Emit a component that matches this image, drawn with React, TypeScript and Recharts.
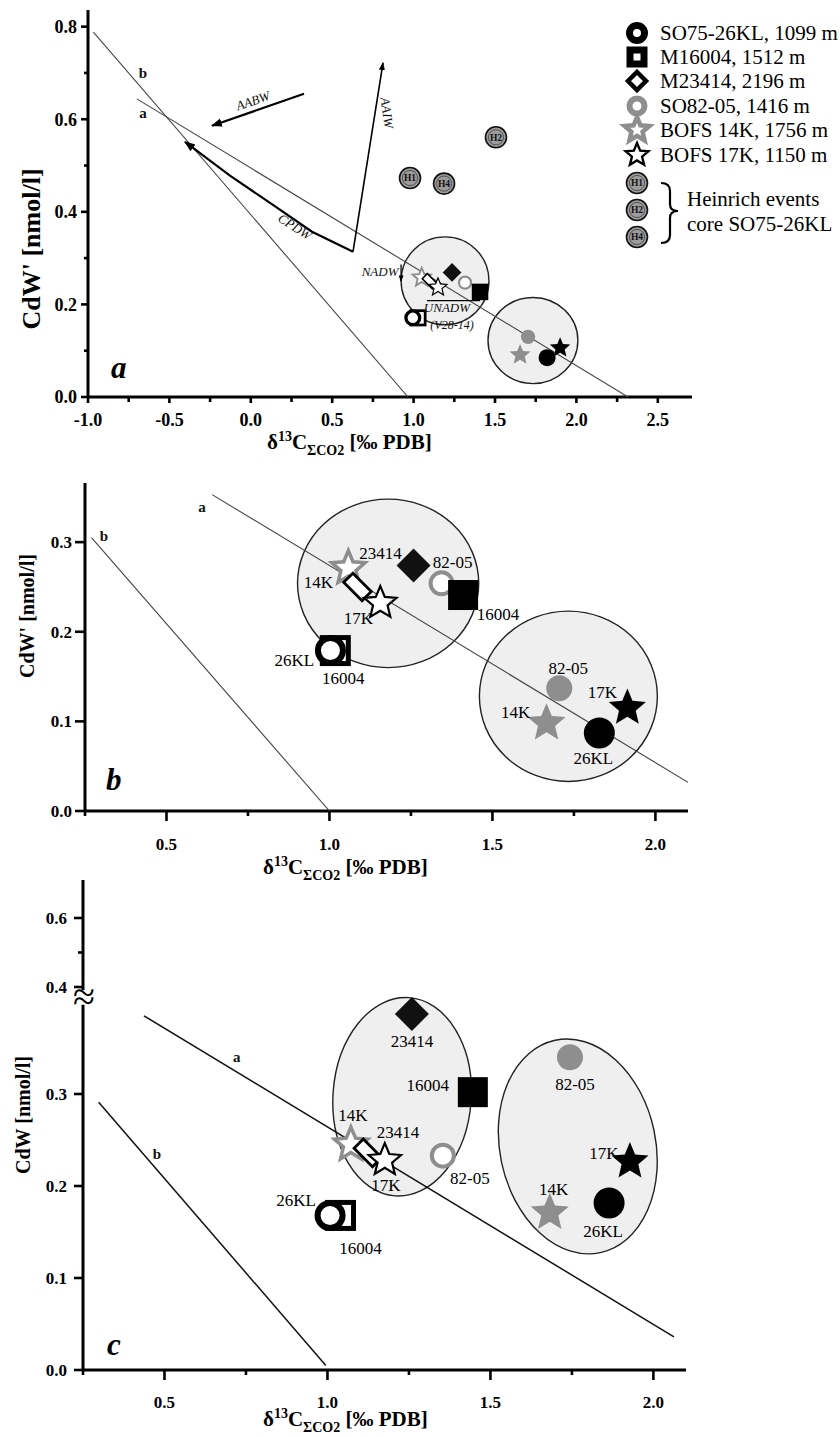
import React from 'react';
import { ScatterChart, Scatter, XAxis, YAxis, ReferenceLine } from 'recharts';

const SERIF = '"Liberation Serif", "Times New Roman", serif';
const GRAY = '#8e8e8e';
const W = 840;

// ---------- panel a ----------
const aXTicks = [-1, -0.75, -0.5, -0.25, 0, 0.25, 0.5, 0.75, 1, 1.25, 1.5, 1.75, 2, 2.25, 2.5];
const aXLabels = ['-1.0', '', '-0.5', '', '0.0', '', '0.5', '', '1.0', '', '1.5', '', '2.0', '', '2.5'];
const aYTicks = [0, 0.1, 0.2, 0.3, 0.4, 0.5, 0.6, 0.7, 0.8];
const aYLabels = ['0.0', '', '0.2', '', '0.4', '', '0.6', '', '0.8'];

const aLineA = [{ x: -0.7, y: 0.644 }, { x: 2.317, y: 0 }];
const aLineB = [{ x: -0.967, y: 0.788 }, { x: 0.966, y: 0 }];
const aAABW = [{ x: 0.327, y: 0.655 }, { x: -0.238, y: 0.586 }];
const aCPDW = [
  { x: 0.628, y: 0.314 },
  { x: 0.376, y: 0.357 },
  { x: 0.136, y: 0.415 },
  { x: -0.128, y: 0.478 },
  { x: -0.404, y: 0.551 },
];
const aAAIW = [{ x: 0.628, y: 0.314 }, { x: 0.812, y: 0.722 }];
const aNADW = [{ x: 0.923, y: 0.286 }, { x: 0.923, y: 0.25 }];
const aUNADW = [{ x: 1.082, y: 0.208 }, { x: 1.408, y: 0.208 }];

const aRegions = [
  { x: 1.193, y: 0.251, rx: 0.27, ry: 0.095 },
  { x: 1.733, y: 0.122, rx: 0.276, ry: 0.093 },
];
const aOpen = [
  { core: '16004', x: 1.027, y: 0.171 },
  { core: '26KL', x: 0.995, y: 0.171 },
  { core: '14K', x: 1.05, y: 0.258 },
  { core: '23414', x: 1.1, y: 0.25 },
  { core: '17K', x: 1.15, y: 0.237 },
  { core: '82-05', x: 1.316, y: 0.247 },
];
const aFilled = [
  { core: '23414', x: 1.236, y: 0.269 },
  { core: '16004', x: 1.408, y: 0.227 },
  { core: '82-05', x: 1.703, y: 0.13 },
  { core: '14K', x: 1.654, y: 0.091 },
  { core: '26KL', x: 1.82, y: 0.085 },
  { core: '17K', x: 1.9, y: 0.106 },
];
const aHeinrich = [
  { name: 'H1', x: 0.978, y: 0.473 },
  { name: 'H2', x: 1.506, y: 0.561 },
  { name: 'H4', x: 1.187, y: 0.461 },
];
const aNotes = [
  { text: 'AABW', x: 0.013, y: 0.64 },
  { text: 'CPDW', x: 0.271, y: 0.368 },
  { text: 'AAIW', x: 0.837, y: 0.614 },
  { text: 'NADW', x: 0.794, y: 0.271 },
  { text: 'UNADW', x: 1.205, y: 0.193 },
  { text: '(V28-14)', x: 1.236, y: 0.156 },
  { text: 'b', x: -0.662, y: 0.7 },
  { text: 'a', x: -0.662, y: 0.614 },
];

// ---------- panel b ----------
const bXTicks = [0.25, 0.5, 0.75, 1, 1.25, 1.5, 1.75, 2];
const bXLabels = ['', '0.5', '', '1.0', '', '1.5', '', '2.0'];
const bYTicks = [0, 0.1, 0.2, 0.3];
const bYLabels = ['0.0', '0.1', '0.2', '0.3'];
const bLineA = [{ x: 0.64, y: 0.353 }, { x: 2.1, y: 0.032 }];
const bLineB = [{ x: 0.27, y: 0.305 }, { x: 1.0, y: 0 }];
const bRegions = [
  { x: 1.18, y: 0.254, rx: 0.278, ry: 0.094 },
  { x: 1.733, y: 0.128, rx: 0.273, ry: 0.095 },
];
const bOpen = [
  { core: '16004', x: 1.018, y: 0.179 },
  { core: '26KL', x: 1.003, y: 0.179 },
  { core: '14K', x: 1.058, y: 0.271 },
  { core: '23414', x: 1.086, y: 0.25 },
  { core: '17K', x: 1.156, y: 0.232 },
  { core: '82-05', x: 1.344, y: 0.254 },
];
const bFilled = [
  { core: '23414', x: 1.258, y: 0.274 },
  { core: '16004', x: 1.41, y: 0.241 },
  { core: '82-05', x: 1.705, y: 0.137 },
  { core: '14K', x: 1.666, y: 0.098 },
  { core: '26KL', x: 1.828, y: 0.087 },
  { core: '17K', x: 1.914, y: 0.115 },
];
const bNotes = [
  { text: 'a', x: 0.609, y: 0.339 },
  { text: 'b', x: 0.308, y: 0.307 },
];

// ---------- panel c (broken y axis above 0.4) ----------
const cXTicks = [0.25, 0.5, 0.75, 1, 1.25, 1.5, 1.75, 2];
const cXLabels = ['', '0.5', '', '1.0', '', '1.5', '', '2.0'];
const cYTicks = [0, 0.1, 0.2, 0.3, 0.4, 0.5, 0.6];
const cYLabels = ['0.0', '0.1', '0.2', '0.3', '0.4', '', '0.6'];
const cLineA = [{ x: 0.437, y: 0.385 }, { x: 2.063, y: 0.036 }];
const cLineB = [{ x: 0.298, y: 0.291 }, { x: 0.995, y: 0.005 }];
const cRegions = [
  { x: 1.229, y: 0.297, rx: 0.212, ry: 0.108, tilt: 4 },
  { x: 1.768, y: 0.243, rx: 0.239, ry: 0.118, tilt: -12 },
];
const cOpen = [
  { core: '16004', x: 1.04, y: 0.168 },
  { core: '26KL', x: 1.008, y: 0.168 },
  { core: '14K', x: 1.072, y: 0.245 },
  { core: '23414', x: 1.124, y: 0.236 },
  { core: '17K', x: 1.176, y: 0.228 },
  { core: '82-05', x: 1.354, y: 0.233 },
];
const cFilled = [
  { core: '23414', x: 1.259, y: 0.387 },
  { core: '16004', x: 1.446, y: 0.302 },
  { core: '82-05', x: 1.744, y: 0.34 },
  { core: '14K', x: 1.682, y: 0.171 },
  { core: '26KL', x: 1.864, y: 0.1815 },
  { core: '17K', x: 1.928, y: 0.2265 },
];
const cNotes = [
  { text: 'a', x: 0.722, y: 0.34 },
  { text: 'b', x: 0.477, y: 0.235 },
];

const legendRows = [
  { core: '26KL', label: 'SO75-26KL, 1099 m' },
  { core: '16004', label: 'M16004, 1512 m' },
  { core: '23414', label: 'M23414, 2196 m' },
  { core: '82-05', label: 'SO82-05, 1416 m' },
  { core: '14K', label: 'BOFS 14K, 1756 m' },
  { core: '17K', label: 'BOFS 17K, 1150 m' },
];
const legendHeinrich = ['H1', 'H2', 'H4'];

// y mapping for the broken axis of panel c
const brk = (v: number) => (v <= 0.39 ? v : 0.4163 + (v - 0.4) * 0.375);

// ---------- styles ----------
type Sty = { shape: string; size: number; fill: string; stroke?: string; sw?: number };

const openSty: Record<string, Sty> = {
  '26KL': { shape: 'circle', size: 12.5, fill: '#fff', stroke: '#000', sw: 6 },
  '16004': { shape: 'square', size: 13, fill: '#fff', stroke: '#000', sw: 5 },
  '23414': { shape: 'bar', size: 13, fill: '#fff', stroke: '#000', sw: 2.8 },
  '82-05': { shape: 'circle', size: 11, fill: '#fff', stroke: GRAY, sw: 4 },
  '14K': { shape: 'star', size: 17.5, fill: '#fff', stroke: GRAY, sw: 3.5 },
  '17K': { shape: 'star', size: 17, fill: '#fff', stroke: '#000', sw: 2.2 },
};
const filledSty: Record<string, Sty> = {
  '26KL': { shape: 'circle', size: 15.5, fill: '#000' },
  '16004': { shape: 'square', size: 15, fill: '#000' },
  '23414': { shape: 'diamond', size: 17, fill: '#111' },
  '82-05': { shape: 'circle', size: 13, fill: GRAY },
  '14K': { shape: 'star', size: 20, fill: GRAY },
  '17K': { shape: 'star', size: 19.5, fill: '#000' },
};
const legendSty: Record<string, Sty> = {
  '26KL': { shape: 'circle', size: 7.5, fill: '#fff', stroke: '#000', sw: 7 },
  '16004': { shape: 'square', size: 7, fill: '#fff', stroke: '#000', sw: 7 },
  '23414': { shape: 'diamond', size: 9, fill: '#fff', stroke: '#000', sw: 4.5 },
  '82-05': { shape: 'circle', size: 7.5, fill: '#fff', stroke: GRAY, sw: 6 },
  '14K': { shape: 'star', size: 13, fill: '#fff', stroke: GRAY, sw: 4.5 },
  '17K': { shape: 'star', size: 12, fill: '#fff', stroke: '#000', sw: 2.4 },
};

const bLabelPos: Record<string, number[]> = {
  'open:14K': [-30, 14],
  'open:17K': [-22, 15],
  'open:82-05': [11, -21],
  'open:26KL': [-36, 9],
  'open:16004': [8, 27],
  'filled:23414': [-33, -12],
  'filled:16004': [35, 19],
  'filled:82-05': [9, -20],
  'filled:14K': [-31, -11],
  'filled:26KL': [-6, 25],
  'filled:17K': [-25, -16],
};
const cLabelPos: Record<string, number[]> = {
  'open:14K': [2, -30],
  'open:23414': [30, -21],
  'open:17K': [1, 25],
  'open:82-05': [27, 22],
  'open:26KL': [-34, -15],
  'open:16004': [20, 33],
  'filled:23414': [0, 27],
  'filled:16004': [-45, -7],
  'filled:82-05': [5, 27],
  'filled:14K': [4, -24],
  'filled:26KL': [-6, 28],
  'filled:17K': [-26, -9],
};

type NoteSty = { angle?: number; anchor?: string; italic?: boolean; bold?: boolean; size?: number };
const noteSty: Record<string, NoteSty> = {
  AABW: { angle: -19, italic: true, size: 13 },
  CPDW: { angle: 33, italic: true, size: 13 },
  AAIW: { angle: 82, italic: true, size: 13 },
  NADW: { italic: true, size: 13 },
  UNADW: { italic: true, size: 13 },
  '(V28-14)': { italic: true, size: 12 },
  a: { bold: true, size: 15 },
  b: { bold: true, size: 15 },
};

// ---------- glyph helpers ----------
function starPts(cx: number, cy: number, R: number) {
  const r = R * 0.45;
  const pts: string[] = [];
  for (let i = 0; i < 10; i++) {
    const ang = -Math.PI / 2 + (i * Math.PI) / 5;
    const rad = i % 2 === 0 ? R : r;
    pts.push(`${(cx + rad * Math.cos(ang)).toFixed(1)},${(cy + rad * Math.sin(ang)).toFixed(1)}`);
  }
  return pts.join(' ');
}

function Sym({ s, cx, cy, k = 1 }: { s: Sty; cx: number; cy: number; k?: number }) {
  const z = s.size * k;
  const common = { fill: s.fill, stroke: s.stroke || 'none', strokeWidth: (s.sw || 0) * k };
  switch (s.shape) {
    case 'circle':
      return <circle cx={cx} cy={cy} r={z} {...common} />;
    case 'square':
      return <rect x={cx - z} y={cy - z} width={2 * z} height={2 * z} {...common} />;
    case 'diamond':
      return <polygon points={`${cx},${cy - z} ${cx + z},${cy} ${cx},${cy + z} ${cx - z},${cy}`} {...common} />;
    case 'bar':
      return (
        <rect x={cx - z} y={cy - z * 0.5} width={2 * z} height={z} transform={`rotate(45 ${cx} ${cy})`} {...common} />
      );
    case 'star':
      return <polygon points={starPts(cx, cy, z)} strokeLinejoin="miter" {...common} />;
    default:
      return null;
  }
}

function HGlyph({ cx, cy, name }: { cx: number; cy: number; name: string }) {
  return (
    <g>
      <circle cx={cx} cy={cy} r={10.5} fill="#9c9c9c" stroke="#111" strokeWidth={1.6} />
      <circle cx={cx} cy={cy} r={7.6} fill="none" stroke="#333" strokeWidth={0.7} />
      <text x={cx} y={cy + 3.3} textAnchor="middle" fontFamily={SERIF} fontWeight={700} fontSize={9.5} fill="#111">
        {name}
      </text>
    </g>
  );
}

const none = () => <g />;

const regionShape = (kx: number, ky: number) => (p: any) => {
  const d = p.payload;
  return (
    <ellipse
      cx={p.cx}
      cy={p.cy}
      rx={d.rx * kx}
      ry={d.ry * ky}
      transform={d.tilt ? `rotate(${d.tilt} ${p.cx} ${p.cy})` : undefined}
      fill="#efefef"
      stroke="#222"
      strokeWidth={1.4}
    />
  );
};

const markerShape = (styles: Record<string, Sty>, k: number, set: string, labels?: Record<string, number[]>) => (p: any) => {
  const d = p.payload;
  const off = labels ? labels[`${set}:${d.core}`] : undefined;
  return (
    <g>
      <Sym s={styles[d.core]} cx={p.cx} cy={p.cy} k={k} />
      {off ? (
        <text x={p.cx + off[0]} y={p.cy + off[1] + 6} textAnchor="middle" fontFamily={SERIF} fontSize={17} fill="#000">
          {d.core}
        </text>
      ) : null}
    </g>
  );
};

const noteShape = (p: any) => {
  const d = p.payload;
  const s = noteSty[d.text] || {};
  return (
    <text
      x={p.cx}
      y={p.cy}
      textAnchor={(s.anchor as any) || 'middle'}
      dominantBaseline="central"
      transform={s.angle ? `rotate(${s.angle} ${p.cx} ${p.cy})` : undefined}
      fontFamily={SERIF}
      fontStyle={s.italic ? 'italic' : 'normal'}
      fontWeight={s.bold ? 700 : 400}
      fontSize={s.size || 13}
      fill="#111"
    >
      {d.text}
    </text>
  );
};

const heinrichShape = (p: any) => <HGlyph cx={p.cx} cy={p.cy} name={p.payload.name} />;

function xTick(ticks: number[], labels: string[], major: number, minor: number, dy: number, fs: number) {
  return (p: any) => {
    const i = ticks.findIndex((t) => Math.abs(t - p.payload.value) < 1e-6);
    const lab = i >= 0 ? labels[i] : '';
    return (
      <g>
        <line x1={p.x} y1={p.y} x2={p.x} y2={p.y + (lab ? major : minor)} stroke="#000" strokeWidth={2.6} />
        {lab ? (
          <text x={p.x} y={p.y + dy} textAnchor="middle" fontFamily={SERIF} fontWeight={700} fontSize={fs} fill="#000">
            {lab}
          </text>
        ) : null}
      </g>
    );
  };
}

function yTick(ticks: number[], labels: string[], major: number, minor: number, dx: number, fs: number, breakAt?: string) {
  return (p: any) => {
    const i = ticks.findIndex((t) => Math.abs(t - p.payload.value) < 1e-6);
    const lab = i >= 0 ? labels[i] : '';
    return (
      <g>
        <line x1={p.x - (lab ? major : minor)} y1={p.y} x2={p.x} y2={p.y} stroke="#000" strokeWidth={2.6} />
        {lab ? (
          <text x={p.x - dx} y={p.y + fs * 0.35} textAnchor="end" fontFamily={SERIF} fontWeight={700} fontSize={fs} fill="#000">
            {lab}
          </text>
        ) : null}
        {breakAt && lab === breakAt ? (
          <text x={p.x + 1} y={p.y + 23} textAnchor="middle" fontFamily={SERIF} fontSize={40} fill="#000">
            ≈
          </text>
        ) : null}
      </g>
    );
  };
}

function XTitle({ x, y }: { x: number; y: number }) {
  return (
    <text x={x} y={y} fontFamily={SERIF} fontWeight={700} fontSize={21} fill="#000">
      δ
      <tspan fontSize={14} dy={-8}>
        13
      </tspan>
      <tspan dy={8}>C</tspan>
      <tspan fontSize={14} dy={6}>
        ΣCO2
      </tspan>
      <tspan dy={-6}>{'\u00a0[‰ PDB]'}</tspan>
    </text>
  );
}

function YTitle({ x, y, text, fs }: { x: number; y: number; text: string; fs: number }) {
  return (
    <text x={x} y={y} transform={`rotate(-90 ${x} ${y})`} textAnchor="middle" fontFamily={SERIF} fontWeight={700} fontSize={fs} fill="#000">
      {text}
    </text>
  );
}

function Letter({ x, y, t }: { x: number; y: number; t: string }) {
  return (
    <text x={x} y={y} fontFamily={SERIF} fontWeight={700} fontStyle="italic" fontSize={31} fill="#000">
      {t}
    </text>
  );
}

const axisLine = { stroke: '#000', strokeWidth: 3 };
const YW = 60;
const XH = 30;

function PanelA() {
  const chartH = 460;
  const kx = 604 / 3.71;
  const ky = 387 / 0.836;
  return (
    <ScatterChart width={W} height={chartH} margin={{ top: 10, right: 148, bottom: chartH - 397 - XH, left: 88 - YW }}>
      <XAxis
        type="number"
        dataKey="x"
        domain={[-1, 2.71]}
        allowDataOverflow
        ticks={aXTicks}
        interval={0}
        tickSize={0}
        tickMargin={0}
        tickLine={false}
        axisLine={axisLine}
        height={XH}
        tick={xTick(aXTicks, aXLabels, 6, 5, 29, 18)}
        label={() => (
          <g>
            <XTitle x={267} y={449} />
            <Letter x={111} y={378} t="a" />
          </g>
        )}
      />
      <YAxis
        type="number"
        dataKey="y"
        domain={[0, 0.836]}
        allowDataOverflow
        ticks={aYTicks}
        interval={0}
        tickSize={0}
        tickMargin={0}
        tickLine={false}
        axisLine={axisLine}
        width={YW}
        tick={yTick(aYTicks, aYLabels, 7, 4, 11, 18)}
        label={() => <YTitle x={40} y={249} text="CdW' [nmol/l]" fs={26} />}
      />
      <Scatter data={aRegions} shape={regionShape(kx, ky)} isAnimationActive={false} />
      <Scatter data={aLineA} line={{ stroke: '#444', strokeWidth: 1.1 }} shape={none} isAnimationActive={false} />
      <Scatter data={aLineB} line={{ stroke: '#444', strokeWidth: 1.1 }} shape={none} isAnimationActive={false} />
      <Scatter data={aAABW} line={{ stroke: '#000', strokeWidth: 2.2, markerEnd: 'url(#arrowHead)' }} shape={none} isAnimationActive={false} />
      <Scatter data={aCPDW} line={{ stroke: '#000', strokeWidth: 2.2, markerEnd: 'url(#arrowHead)' }} shape={none} isAnimationActive={false} />
      <Scatter data={aAAIW} line={{ stroke: '#000', strokeWidth: 1.6, markerEnd: 'url(#arrowHead)' }} shape={none} isAnimationActive={false} />
      <Scatter data={aNADW} line={{ stroke: '#000', strokeWidth: 1.3, markerEnd: 'url(#arrowHead)' }} shape={none} isAnimationActive={false} />
      <Scatter data={aUNADW} line={{ stroke: '#000', strokeWidth: 1.3 }} shape={none} isAnimationActive={false} />
      <Scatter data={aOpen} shape={markerShape(openSty, 0.55, 'open')} isAnimationActive={false} />
      <Scatter data={aFilled} shape={markerShape(filledSty, 0.55, 'filled')} isAnimationActive={false} />
      <Scatter data={aHeinrich} shape={heinrichShape} isAnimationActive={false} />
      <Scatter data={aNotes} shape={noteShape} isAnimationActive={false} />
    </ScatterChart>
  );
}

function PanelB() {
  const chartH = 450;
  const kx = 603 / 1.85;
  const ky = 328 / 0.366;
  return (
    <ScatterChart width={W} height={chartH} margin={{ top: 43, right: 152, bottom: chartH - 371 - XH, left: 85 - YW }}>
      <XAxis
        type="number"
        dataKey="x"
        domain={[0.25, 2.1]}
        allowDataOverflow
        ticks={bXTicks}
        interval={0}
        tickSize={0}
        tickMargin={0}
        tickLine={false}
        axisLine={axisLine}
        height={XH}
        tick={xTick(bXTicks, bXLabels, 10, 5, 39, 17)}
        label={() => (
          <g>
            <XTitle x={263} y={434} />
            <Letter x={106} y={350} t="b" />
          </g>
        )}
      />
      <YAxis
        type="number"
        dataKey="y"
        domain={[0, 0.366]}
        allowDataOverflow
        ticks={bYTicks}
        interval={0}
        tickSize={0}
        tickMargin={0}
        tickLine={false}
        axisLine={axisLine}
        width={YW}
        tick={yTick(bYTicks, bYLabels, 10, 5, 13, 17)}
        label={() => <YTitle x={34} y={176} text="CdW' [nmol/l]" fs={20} />}
      />
      <Scatter data={bRegions} shape={regionShape(kx, ky)} isAnimationActive={false} />
      <Scatter data={bLineA} line={{ stroke: '#444', strokeWidth: 1.1 }} shape={none} isAnimationActive={false} />
      <Scatter data={bLineB} line={{ stroke: '#444', strokeWidth: 1.1 }} shape={none} isAnimationActive={false} />
      <Scatter data={bOpen} shape={markerShape(openSty, 1, 'open', bLabelPos)} isAnimationActive={false} />
      <Scatter data={bFilled} shape={markerShape(filledSty, 1, 'filled', bLabelPos)} isAnimationActive={false} />
      <Scatter data={bNotes} shape={noteShape} isAnimationActive={false} />
    </ScatterChart>
  );
}

function PanelC() {
  const chartH = 577;
  const kx = 603 / 1.85;
  const ky = 490 / 0.5326;
  const yTicksD = cYTicks.map(brk);
  const mapY = (arr: any[]) => arr.map((d) => ({ ...d, y: brk(d.y) }));
  return (
    <ScatterChart width={W} height={chartH} margin={{ top: 20, right: 154, bottom: chartH - 510 - XH, left: 83 - YW }}>
      <XAxis
        type="number"
        dataKey="x"
        domain={[0.25, 2.1]}
        allowDataOverflow
        ticks={cXTicks}
        interval={0}
        tickSize={0}
        tickMargin={0}
        tickLine={false}
        axisLine={axisLine}
        height={XH}
        tick={xTick(cXTicks, cXLabels, 10, 5, 38, 17)}
        label={() => (
          <g>
            <XTitle x={263} y={566} />
            <Letter x={107} y={495} t="c" />
          </g>
        )}
      />
      <YAxis
        type="number"
        dataKey="y"
        domain={[0, 0.5326]}
        allowDataOverflow
        ticks={yTicksD}
        interval={0}
        tickSize={0}
        tickMargin={0}
        tickLine={false}
        axisLine={false}
        width={YW}
        tick={yTick(yTicksD, cYLabels, 9, 5, 16, 17, '0.4')}
        label={() => <YTitle x={30} y={255} text="CdW [nmol/l]" fs={20} />}
      />
      <ReferenceLine segment={[{ x: 0.25, y: 0 }, { x: 0.25, y: 0.397 }]} stroke="#000" strokeWidth={3} ifOverflow="visible" />
      <ReferenceLine segment={[{ x: 0.25, y: 0.413 }, { x: 0.25, y: 0.5326 }]} stroke="#000" strokeWidth={3} ifOverflow="visible" />
      <Scatter data={mapY(cRegions)} shape={regionShape(kx, ky)} isAnimationActive={false} />
      <Scatter data={mapY(cLineA)} line={{ stroke: '#111', strokeWidth: 1.5 }} shape={none} isAnimationActive={false} />
      <Scatter data={mapY(cLineB)} line={{ stroke: '#111', strokeWidth: 1.5 }} shape={none} isAnimationActive={false} />
      <Scatter data={mapY(cOpen)} shape={markerShape(openSty, 1, 'open', cLabelPos)} isAnimationActive={false} />
      <Scatter data={mapY(cFilled)} shape={markerShape(filledSty, 1, 'filled', cLabelPos)} isAnimationActive={false} />
      <Scatter data={mapY(cNotes)} shape={noteShape} isAnimationActive={false} />
    </ScatterChart>
  );
}

function LegendBox() {
  const rowY = [33, 57, 81, 106, 130, 155];
  const hY = [183, 210, 237];
  return (
    <svg width={W} height={260} style={{ position: 'absolute', left: 0, top: 0, overflow: 'visible' }}>
      <defs>
        <marker id="arrowHead" viewBox="0 0 10 10" refX="9" refY="5" markerWidth="5" markerHeight="5" orient="auto" markerUnits="strokeWidth">
          <path d="M0,1.2 L10,5 L0,8.8 z" fill="#000" />
        </marker>
      </defs>
      {legendRows.map((r, i) => (
        <g key={r.core}>
          <Sym s={legendSty[r.core]} cx={637} cy={rowY[i]} />
          <text x={660} y={rowY[i] + 7} fontFamily={SERIF} fontSize={21} fill="#000">
            {r.label}
          </text>
        </g>
      ))}
      {legendHeinrich.map((h, i) => (
        <HGlyph key={h} cx={637} cy={hY[i]} name={h} />
      ))}
      <path
        d="M661,183 Q670,183 670,191 L670,204 Q670,211 678,211 Q670,211 670,218 L670,235 Q670,243 661,243"
        fill="none"
        stroke="#000"
        strokeWidth={2.2}
      />
      <text x={687} y={206} fontFamily={SERIF} fontSize={21} fill="#000">
        Heinrich events
      </text>
      <text x={687} y={231} fontFamily={SERIF} fontSize={21} fill="#000">
        core SO75-26KL
      </text>
    </svg>
  );
}

export default function App() {
  return (
    <div style={{ position: 'absolute', left: 0, top: 0, width: W, height: 1437, background: '#fff', overflow: 'hidden' }}>
      <div style={{ position: 'absolute', left: 0, top: 0 }}>
        <PanelA />
      </div>
      <div style={{ position: 'absolute', left: 0, top: 440 }}>
        <PanelB />
      </div>
      <div style={{ position: 'absolute', left: 0, top: 860 }}>
        <PanelC />
      </div>
      <LegendBox />
    </div>
  );
}
